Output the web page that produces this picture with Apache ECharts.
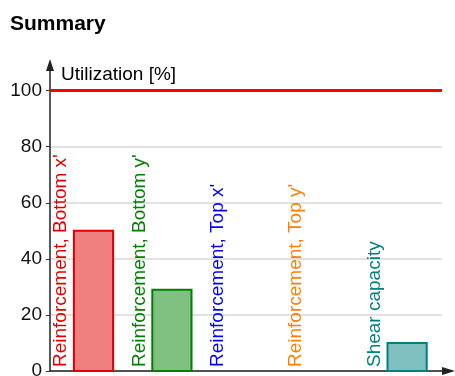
<!DOCTYPE html>
<html>
<head>
<meta charset="utf-8">
<script src="https://cdn.jsdelivr.net/npm/echarts@6/dist/echarts.min.js"></script>
<style>
  html, body { margin: 0; padding: 0; background: #fff; }
  #chart { width: 455px; height: 376px; }
</style>
</head>
<body>
<div id="chart"></div>
<script>
// Utilization summary per check
const categories = [
  "Reinforcement, Bottom x'",
  "Reinforcement, Bottom y'",
  "Reinforcement, Top x'",
  "Reinforcement, Top y'",
  "Shear capacity"
];
const utilization = [50, 29, 0, 0, 10];
const limitValue = 100;
const yTicks = [0, 20, 40, 60, 80, 100];

const textColors = ['#e00000', '#008000', '#0000ff', '#ff8000', '#008080'];
const fillColors = ['#f08080', '#80c080', '#8080ff', '#ffc080', '#80c0c0'];

const FONT = 'Liberation Sans, Arial, sans-serif';

const chart = echarts.init(document.getElementById('chart'), null, { renderer: 'canvas' });

chart.setOption({
  animation: false,
  title: {
    text: 'Summary',
    left: 5,
    top: 9,
    textStyle: { fontFamily: FONT, fontSize: 21, fontWeight: 'bold', color: '#000' }
  },
  grid: { left: 50, right: 13, top: 71, bottom: 5, outerBoundsMode: 'none', containLabel: false },
  xAxis: {
    type: 'category',
    data: categories,
    boundaryGap: true,
    axisLine: {
      show: true,
      lineStyle: { color: '#222', width: 1.5 },
      symbol: ['none', 'triangle'],
      symbolSize: [8, 13],
      symbolOffset: [0, 6.5]
    },
    axisTick: { show: false },
    axisLabel: { show: false },
    splitLine: { show: false }
  },
  yAxis: {
    type: 'value',
    min: 0,
    max: 107,
    interval: 20,
    name: 'Utilization [%]',
    nameLocation: 'end',
    nameGap: -4,
    nameTextStyle: {
      fontFamily: FONT, fontSize: 19, color: '#000',
      align: 'left', verticalAlign: 'middle', padding: [0, 0, 0, 11]
    },
    axisLine: {
      show: true,
      lineStyle: { color: '#222', width: 1.5 },
      symbol: ['none', 'triangle'],
      symbolSize: [8, 12],
      symbolOffset: [0, 6]
    },
    axisTick: { show: true, length: 4, customValues: yTicks, lineStyle: { color: '#333' } },
    axisLabel: {
      customValues: yTicks,
      margin: 8,
      fontFamily: FONT, fontSize: 19, color: '#111'
    },
    splitLine: { show: true, customValues: yTicks, lineStyle: { color: '#d8d8d8', width: 1.5 } }
  },
  series: [
    {
      type: 'custom',
      data: utilization.map((v, i) => [i, v]),
      encode: { x: 0, y: 1 },
      renderItem: function (params, api) {
        const idx = api.value(0);
        const val = api.value(1);
        const top = api.coord([idx, val]);
        const base = api.coord([idx, 0]);
        const band = api.size([1, 0])[0];
        const left = base[0] - band / 2;
        const children = [];
        if (val > 0) {
          children.push({
            type: 'rect',
            shape: {
              x: left + band * 0.305,
              y: top[1],
              width: band * 0.5,
              height: base[1] - top[1]
            },
            style: {
              fill: fillColors[idx],
              stroke: textColors[idx],
              lineWidth: 2
            }
          });
        }
        children.push({
          type: 'text',
          x: left + band * 0.14,
          y: base[1] - 4,
          rotation: Math.PI / 2,
          style: {
            text: categories[idx],
            fill: textColors[idx],
            font: '19px ' + FONT,
            align: 'left',
            verticalAlign: 'middle'
          }
        });
        return { type: 'group', children: children };
      },
      z: 3
    },
    {
      type: 'line',
      data: [],
      silent: true,
      markLine: {
        silent: true,
        symbol: ['none', 'none'],
        label: { show: false },
        lineStyle: { color: '#ff0000', width: 3, type: 'solid' },
        data: [{ yAxis: limitValue }]
      }
    }
  ]
});
</script>
</body>
</html>
